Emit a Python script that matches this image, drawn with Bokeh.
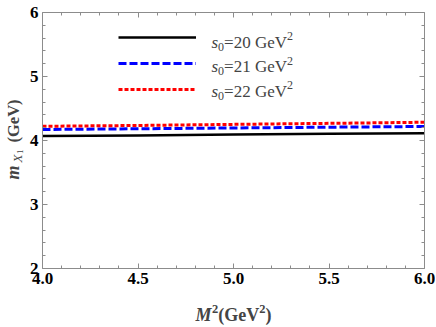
from math import pi
from bokeh.plotting import figure
from bokeh.models import Label, LinearAxis, FixedTicker, Legend, LegendItem, Range1d
from bokeh.embed import file_html
from bokeh.resources import INLINE

# ---- data ----
m2 = [4.0, 4.5, 5.0, 5.5, 6.0]
mx_s20 = [4.070, 4.080, 4.093, 4.104, 4.115]
mx_s21 = [4.172, 4.183, 4.196, 4.208, 4.219]
mx_s22 = [4.222, 4.235, 4.252, 4.268, 4.285]
s0_values = ["20", "21", "22"]
x_ticks = [4.0, 4.5, 5.0, 5.5, 6.0]
x_tick_labels = ["4.0", "4.5", "5.0", "5.5", "6.0"]
x_minor = [4.1, 4.2, 4.3, 4.4, 4.6, 4.7, 4.8, 4.9, 5.1, 5.2, 5.3, 5.4, 5.6, 5.7, 5.8, 5.9]
y_ticks = [2, 3, 4, 5, 6]
y_tick_labels = ["2", "3", "4", "5", "6"]
y_minor = [2.2, 2.4, 2.6, 2.8, 3.2, 3.4, 3.6, 3.8, 4.2, 4.4, 4.6, 4.8, 5.2, 5.4, 5.6, 5.8]

FONT = "Liberation Serif"
GRAY = "#8c8c8c"
X0, X1, Y0, Y1 = 4.0, 6.0, 2.0, 6.0
W, H = 435, 326                       # canvas size
FL, FR, FT, FB = 42, 424, 12, 268     # plot box edges in canvas pixels
SX = (FR - FL) / (X1 - X0)
SY = (FB - FT) / (Y1 - Y0)


def dx(px):
    return X0 + (px - FL) / SX


def dy(py):
    return Y1 - (py - FT) / SY


# the Bokeh frame spans the whole canvas; the axes sit at fixed data locations
p = figure(frame_width=W, frame_height=H,
           x_range=Range1d(dx(0), dx(W)), y_range=Range1d(dy(H), dy(0)),
           output_backend="svg", toolbar_location=None,
           min_border_left=0, min_border_right=0, min_border_top=0, min_border_bottom=0,
           background_fill_color="white", border_fill_color="white")
p.xgrid.visible = False
p.ygrid.visible = False
p.outline_line_color = None


def style(ax, ticks, minor, labels, show, loc, bounds):
    ax.ticker = FixedTicker(ticks=ticks, minor_ticks=minor)
    ax.fixed_location = loc
    ax.bounds = bounds
    ax.axis_line_color = GRAY
    ax.major_tick_line_color = GRAY
    ax.minor_tick_line_color = GRAY
    ax.major_tick_in = 5
    ax.major_tick_out = 0
    ax.minor_tick_in = 3
    ax.minor_tick_out = 0
    ax.major_label_text_font = FONT
    ax.major_label_text_font_style = "bold"
    ax.major_label_text_color = "black"
    if show:
        ax.major_label_overrides = {t: l for t, l in zip(ticks, labels)}
        ax.major_label_text_font_size = "17px"
        ax.major_label_standoff = 4
    else:
        ax.major_label_overrides = {t: "" for t in ticks}
        ax.major_label_text_font_size = "5px"
        ax.major_label_standoff = 0


style(p.xaxis[0], x_ticks, x_minor, x_tick_labels, True, Y0, (X0, X1))
style(p.yaxis[0], y_ticks, y_minor, y_tick_labels, True, X0, (Y0, Y1))
top_ax = LinearAxis()
right_ax = LinearAxis()
style(top_ax, x_ticks, x_minor, x_tick_labels, False, Y1, (X0, X1))
style(right_ax, y_ticks, y_minor, y_tick_labels, False, X1, (Y0, Y1))
p.add_layout(top_ax, "above")
p.add_layout(right_ax, "right")

r1 = p.line(m2, mx_s20, line_color="black", line_width=2.5)
r2 = p.line(m2, mx_s21, line_color="#0000ff", line_width=3, line_dash="8 3")
r3 = p.line(m2, mx_s22, line_color="#ff0000", line_width=3, line_dash="4 2")

legend = Legend(items=[LegendItem(label="", renderers=[r]) for r in (r1, r2, r3)],
                location=(118, H - 99.3), glyph_width=78, glyph_height=20,
                label_height=20, label_width=0, label_standoff=0, spacing=6,
                padding=0, margin=0, border_line_alpha=0, background_fill_alpha=0,
                label_text_font_size="12px")
p.add_layout(legend)


def tlabel(x, y, text, size, style="normal", angle=0.0):
    # (x, y): canvas pixel of the text start, vertical middle of the text
    p.add_layout(Label(x=dx(x), y=dy(y), text=text, text_font=FONT, text_font_style=style,
                       text_font_size=size, text_baseline="middle", angle=angle))


# legend texts: s_0 = NN GeV^2
centers = [41.5, 66, 90.5]
for s0, cy in zip(s0_values, centers):
    tlabel(211, cy, "s", "17px", "italic")
    tlabel(217.6, cy + 4.5, "0", "12px")
    tlabel(223.6, cy, "=" + s0 + " GeV", "17px")
    tlabel(286.5, cy - 6, "2", "12px")

# x axis label: M^2(GeV^2)
xc = 314
tlabel(195, xc, "M", "18px", "bold italic")
tlabel(211.5, xc - 6, "2", "12.5px", "bold")
tlabel(217.8, xc, "(GeV", "18px", "bold")
tlabel(258.8, xc - 6, "2", "12.5px", "bold")
tlabel(265.1, xc, ")", "18px", "bold")

# y axis label: m_{X_1}(GeV), rotated (reads bottom to top)
yc = 12.5
tlabel(yc, 179, "m", "18px", "bold italic", pi / 2)
tlabel(yc + 4.5, 162, "X", "13px", "italic", pi / 2)
tlabel(yc + 7, 153.5, "1", "9px", "normal", pi / 2)
tlabel(yc, 142, "(GeV)", "16.5px", "bold", pi / 2)

open("out.html", "w").write(file_html(p, INLINE))
